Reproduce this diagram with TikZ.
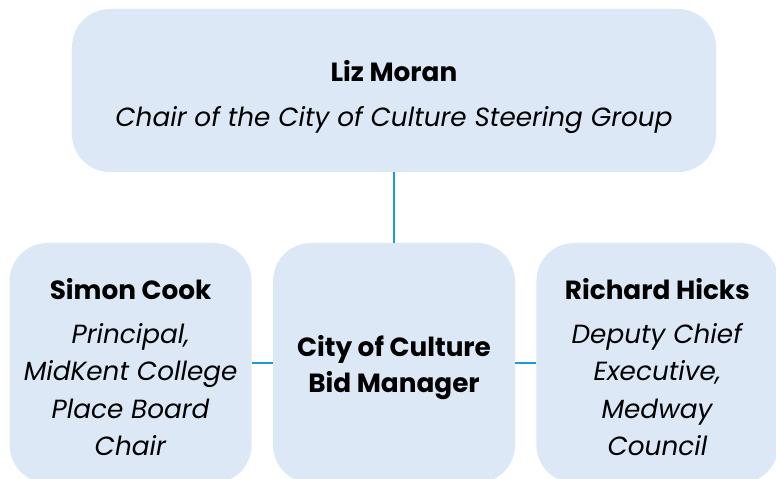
\documentclass[tikz,border=0pt]{standalone}
\usepackage{fontspec}
\setmainfont{Poppins}
\usetikzlibrary{positioning}
\definecolor{boxblue}{HTML}{DDE8F6}
\definecolor{linkblue}{HTML}{1A9AD6}

\begin{document}
\begin{tikzpicture}[
  x=1bp, y=-1bp,
  every node/.style={
    rectangle, rounded corners=38bp, fill=boxblue, align=center,
    inner sep=0pt, font=\fontsize{26.3bp}{37.5bp}\selectfont
  },
  head/.style={minimum width=644bp, minimum height=163bp},
  member/.style={minimum width=242bp, minimum height=240bp},
  link/.style={draw=linkblue, line width=2bp}
  ]
  \useasboundingbox (0,0) rectangle (776,479);
  \node[head] (chair) at (394,90.5)
    {\rule{0pt}{34bp}\textbf{Liz Moran}\\[8bp] \textit{Chair of the City of Culture Steering Group}};
  \node[member] (manager) at (394,363)
    {\rule{0pt}{30bp}\textbf{City of Culture}\\[-2bp] \textbf{Bid Manager}};
  \node[member, left=21bp of manager] (cook)
    {\rule{0pt}{30bp}\textbf{Simon Cook}\\[6bp] \textit{Principal,}\\ \textit{MidKent College}\\
     \textit{Place Board}\\ \textit{Chair}};
  \node[member, right=21bp of manager] (hicks)
    {\rule{0pt}{30bp}\textbf{Richard Hicks}\\[6bp] \textit{Deputy Chief}\\ \textit{Executive,}\\
     \textit{Medway}\\ \textit{Council}};
  \draw[link] (chair) -- (manager);
  \draw[link] (cook) -- (manager);
  \draw[link] (manager) -- (hicks);
\end{tikzpicture}
\end{document}
